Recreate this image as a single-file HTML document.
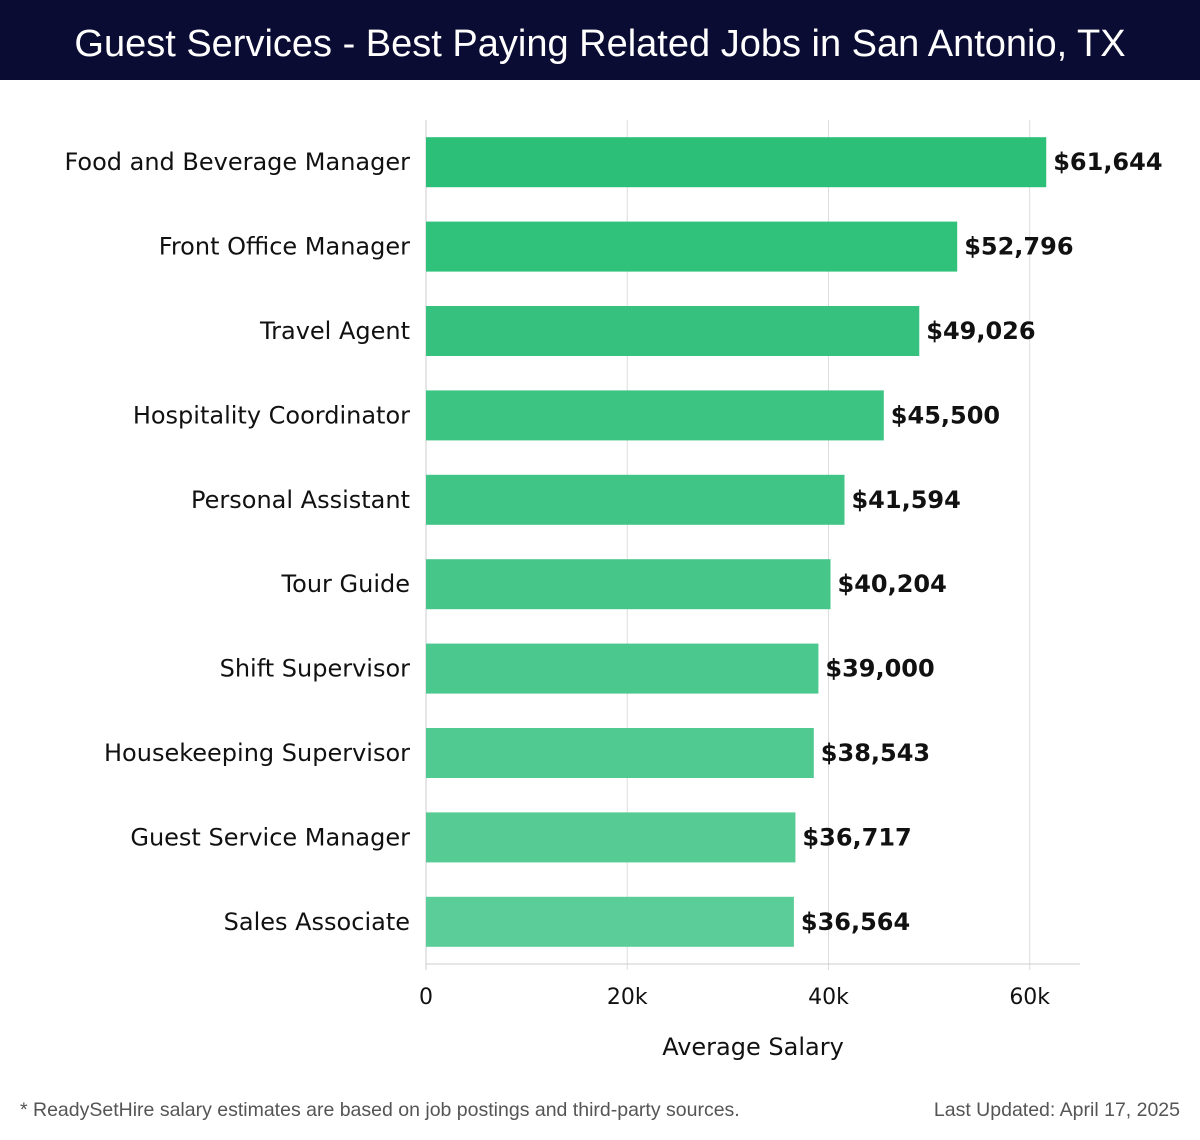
<!DOCTYPE html>
<html><head><meta charset="utf-8"><style>
html,body{margin:0;padding:0;background:#fff;}
body{width:1200px;height:1140px;position:relative;overflow:hidden;font-family:"Liberation Sans","DejaVu Sans",sans-serif;}
#hdr{position:absolute;left:0;top:0;width:1200px;height:80px;background:#0b0c33;color:#fff;font-size:38px;text-align:center;line-height:88px;}
.foot{position:absolute;top:1099px;font-size:19.5px;color:#555;}
svg text{font-family:"DejaVu Sans",sans-serif;}
</style></head><body>
<div id="hdr">Guest Services - Best Paying Related Jobs in San Antonio, TX</div>
<svg id="chart" width="1200" height="1140" style="position:absolute;left:0;top:0"></svg>
<div class="foot" style="left:20px">* ReadySetHire salary estimates are based on job postings and third-party sources.</div>
<div class="foot" style="right:20px">Last Updated: April 17, 2025</div>
<script>
const categories=["Food and Beverage Manager","Front Office Manager","Travel Agent","Hospitality Coordinator","Personal Assistant","Tour Guide","Shift Supervisor","Housekeeping Supervisor","Guest Service Manager","Sales Associate"];
const salaries=[61644,52796,49026,45500,41594,40204,39000,38543,36717,36564];
const tickValues=[0,20000,40000,60000];
const tickLabels=["0","20k","40k","60k"];
const NS="http://www.w3.org/2000/svg";
const svg=document.getElementById('chart');
const x0=426,x1=1080,xmax=65000,plotTop=120,plotBottom=964;
const band=(plotBottom-plotTop)/categories.length,barH=50;
const x=v=>x0+(x1-x0)*v/xmax;
const y=i=>plotTop+band*i+(band-barH)/2;
function mk(t,a){const e=document.createElementNS(NS,t);for(const k in a)e.setAttribute(k,a[k]);svg.appendChild(e);return e;}
tickValues.forEach((v,i)=>{
  const g=mk('line',{x1:x(v),x2:x(v),y1:plotTop,y2:plotBottom+6,stroke:'#ddd','stroke-width':1});
  
  
  const t=mk('text',{x:x(v),y:1004,'text-anchor':'middle','font-size':22,fill:'#111'});
  t.textContent=tickLabels[i];
  
  
});
const ax=mk('line',{x1:x0,x2:x1,y1:plotBottom,y2:plotBottom,stroke:'#ccc'});


const ay=mk('line',{x1:x0,x2:x0,y1:plotTop,y2:plotBottom+6,stroke:'#ccc'});


categories.forEach((c,i)=>{
  const f=i/(categories.length-1);
  const r=Math.round(43+(91-43)*f),g=Math.round(191+(205-191)*f),b=Math.round(119+(152-119)*f);
  const rect=mk('rect',{x:x0,y:y(i),width:x(salaries[i])-x0,height:barH,fill:`rgb(${r},${g},${b})`});
  
  
  const lab=mk('text',{x:410,y:y(i)+barH/2+8,'text-anchor':'end','font-size':24,fill:'#111'});
  lab.textContent=c;
  
  
  const val=mk('text',{x:x(salaries[i])+7,y:y(i)+barH/2+8,'font-size':24,'font-weight':'bold',fill:'#111'});
  val.textContent='$'+salaries[i].toLocaleString('en-US');
  
  
});
const at=mk('text',{x:753,y:1055,'text-anchor':'middle','font-size':24,fill:'#111'});
at.textContent='Average Salary';


</script>
</body></html>
